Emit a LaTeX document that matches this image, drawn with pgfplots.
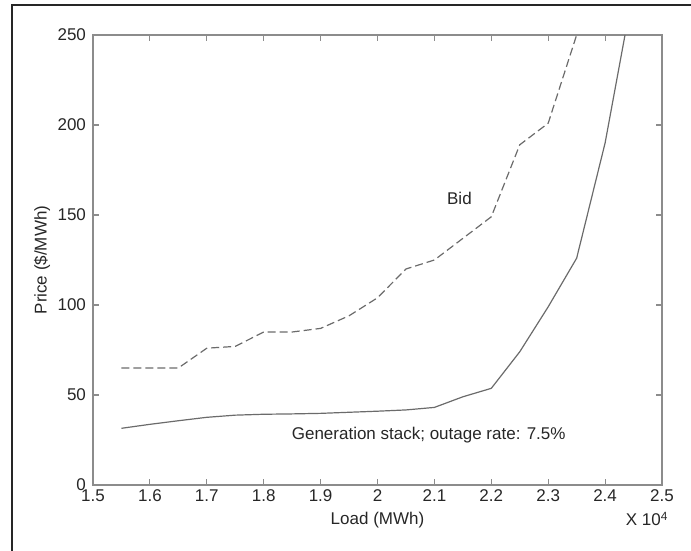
\documentclass[border=0pt]{standalone}
\usepackage{fontspec}
\setmainfont{Liberation Sans}
\usepackage{pgfplots}
\pgfplotsset{compat=1.18}
\definecolor{axgray}{gray}{0.55}
\definecolor{lngray}{gray}{0.42}
\definecolor{txgray}{gray}{0.15}
\begin{document}
\begin{tikzpicture}[x=1pt,y=1pt]
\useasboundingbox (0,0) rectangle (345.5,275.5);
\draw[line width=0.7pt, black!85] (6,-2) -- (6,273) -- (348,273);
\begin{axis}[
  at={(46.5pt,33pt)}, anchor=south west,
  scale only axis, width=284.5pt, height=225pt,
  xmin=1.5, xmax=2.5, ymin=0, ymax=250,
  xtick={1.5,1.6,...,2.5},
  xticklabels={1.5,1.6,1.7,1.8,1.9,2,2.1,2.2,2.3,2.4,2.5},
  ytick={0,50,...,250},
  tick align=inside, major tick length=3pt,
  axis line style={axgray, line width=0.8pt},
  every tick/.style={axgray, line width=0.6pt},
  /pgf/number format/assume math mode=true,
  tick label style={font=\fontsize{8.5}{10}\selectfont, text=txgray},
  xticklabel style={yshift=1pt},
  label style={font=\fontsize{8.5}{10}\selectfont, text=txgray},
  xlabel={Load (MWh)},
  ylabel={Price (\$/MWh)},
  xlabel style={at={(axis description cs:0.5,-0.078)}, anchor=center},
  ylabel style={at={(axis description cs:-0.0896,0.5)}, anchor=center},
  clip mode=individual,
]
\addplot[lngray, line width=0.6pt, dash pattern=on 4pt off 2pt] coordinates {
(1.55,65) (1.65,65) (1.70,76) (1.75,77) (1.80,85) (1.85,85) (1.90,87) (1.95,94)
(2.00,104) (2.05,120) (2.10,125) (2.15,137) (2.20,149) (2.25,189) (2.30,201) (2.35,250)
};
\addplot[lngray, line width=0.6pt] coordinates {
(1.55,31.5) (1.60,33.7) (1.65,35.7) (1.70,37.6) (1.75,38.8) (1.80,39.3) (1.85,39.5)
(1.90,39.8) (1.95,40.4) (2.00,41) (2.05,41.7) (2.10,43.1) (2.15,49) (2.20,53.7)
(2.25,74) (2.30,99) (2.35,126) (2.40,190) (2.435,250)
};
\node[font=\fontsize{8.5}{10}\selectfont, text=txgray] at (axis cs:2.144,159.4) {Bid};
\node[font=\fontsize{8.5}{10}\selectfont, text=txgray] at (axis cs:2.09,27.8) {Generation stack; outage rate: 7.5\%};
\node[font=\fontsize{8.5}{10}\selectfont, text=txgray] at (axis description cs:0.974,-0.0756) {X 10\textsuperscript{4}};
\end{axis}
\end{tikzpicture}
\end{document}
